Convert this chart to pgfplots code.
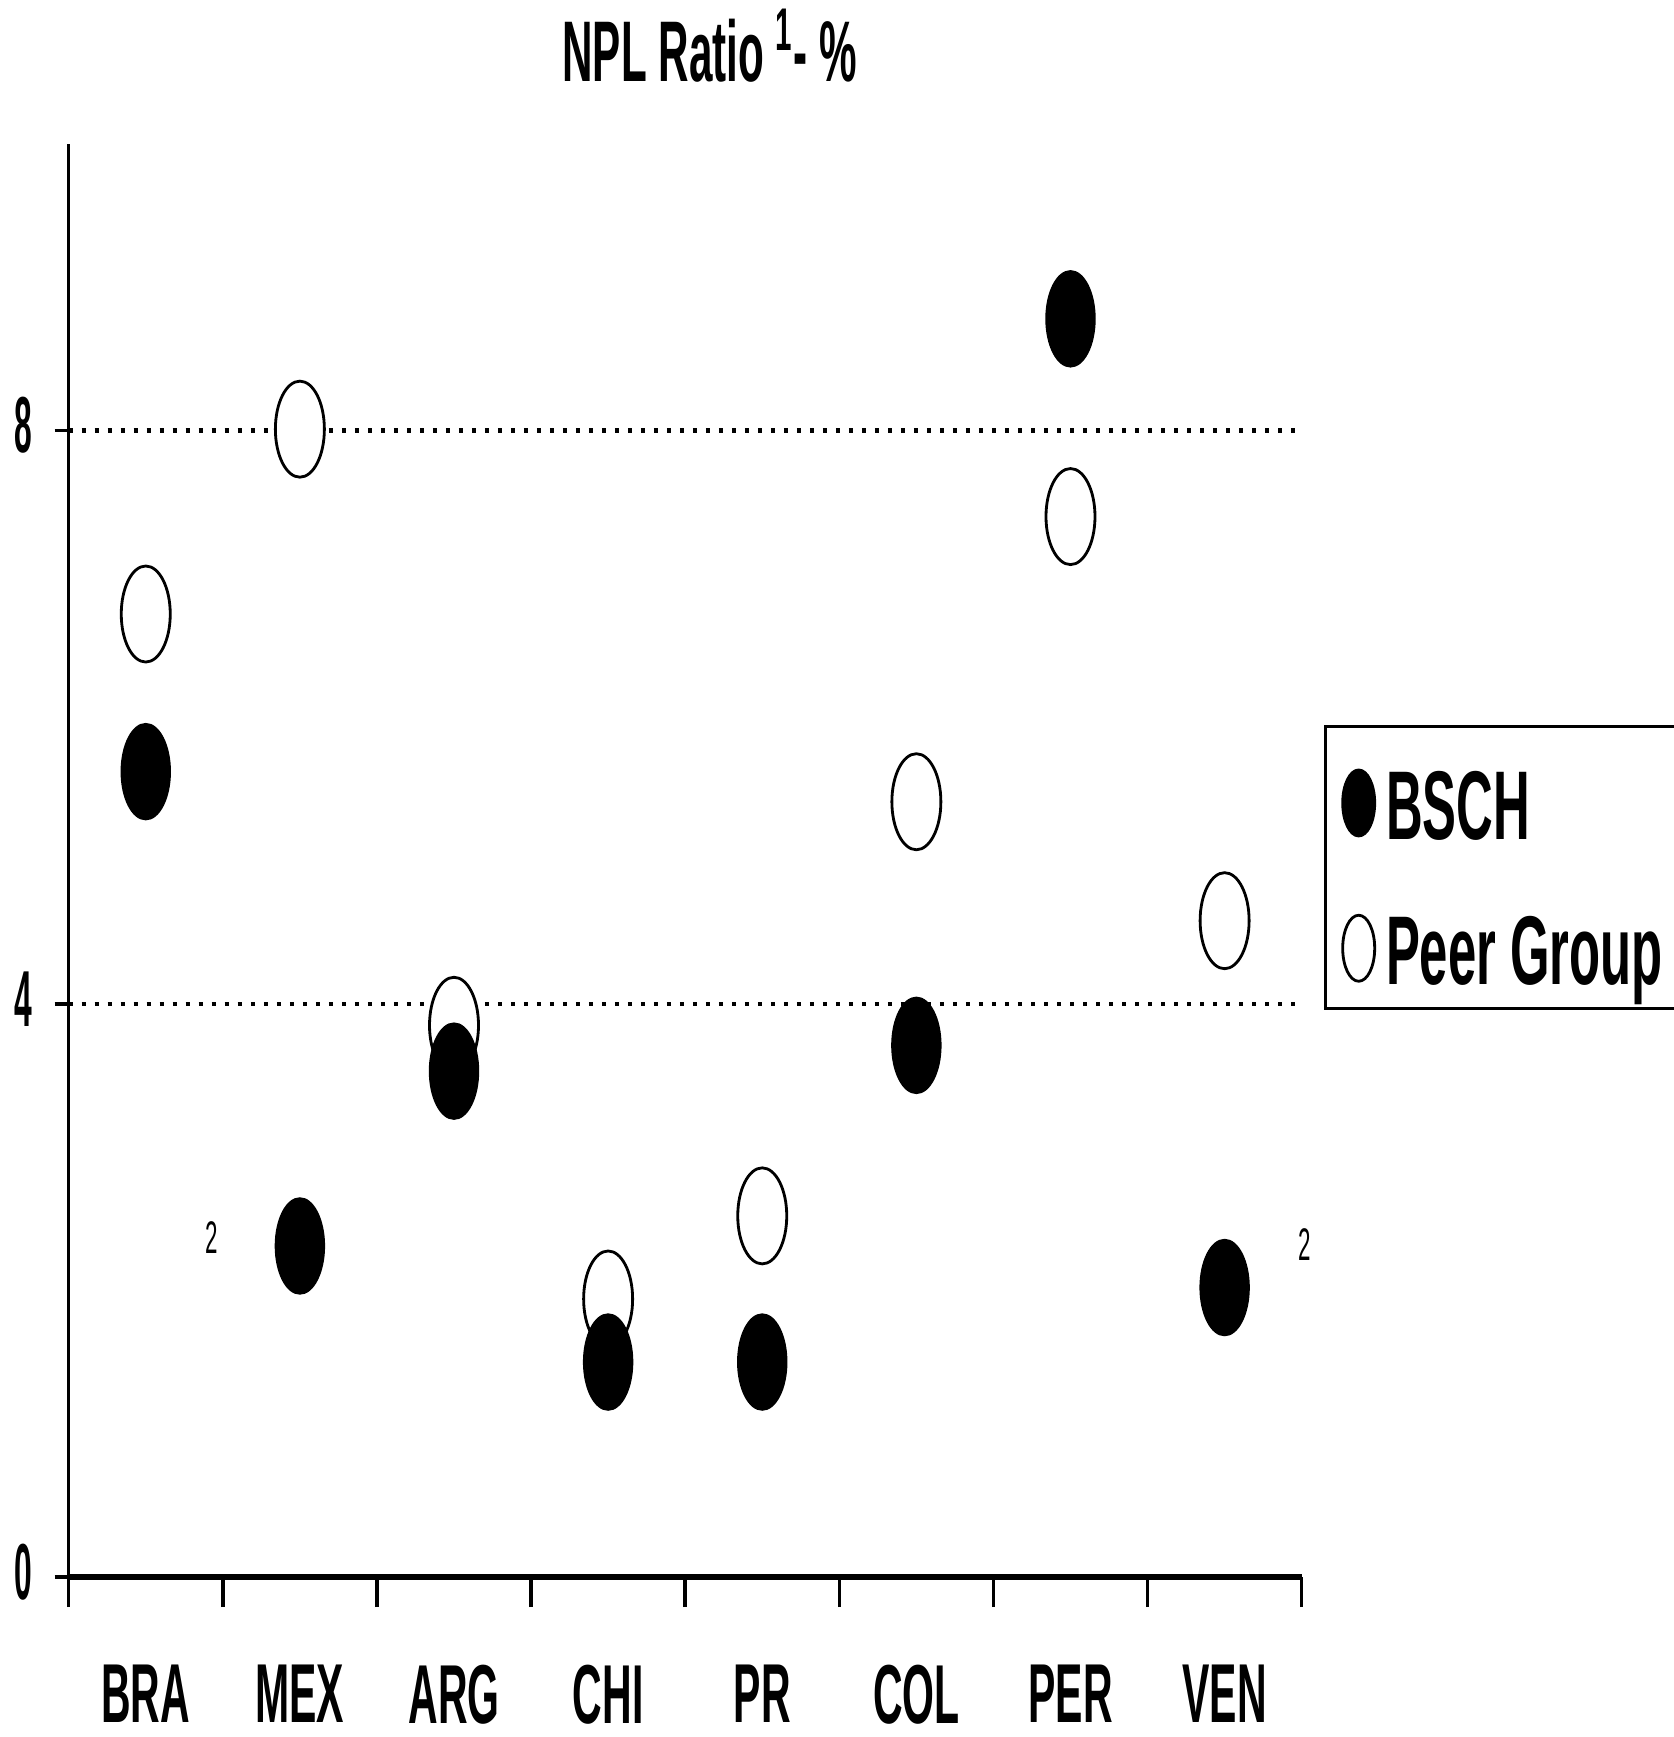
\documentclass[border=0pt]{standalone}
\usepackage{pgfplots}
\pgfplotsset{compat=1.18}
\usepackage{fontspec}
\setmainfont{Liberation Sans}
\newfontfamily\condA{Liberation Sans}[FakeStretch=0.49]
\newfontfamily\condB{Liberation Sans}[FakeStretch=0.4]
\newfontfamily\condL{Liberation Sans}[FakeStretch=0.52]
\newcommand{\lstrut}{\rule[-0.2cm]{0pt}{1.14cm}}
\begin{document}
\begin{tikzpicture}
\begin{axis}[
  scale only axis, width=12.33cm, height=14.33cm,
  xmin=-0.5, xmax=7.5, ymin=0, ymax=10,
  clip=false,
  axis x line*=bottom, axis y line*=left,
  axis line style={-},
  x axis line style={line width=1.6pt},
  y axis line style={line width=0.75pt},
  tick align=outside,
  tick style={line width=1pt, black},
  major tick length=0.3cm,
  xtick={-0.5,0.5,...,7.5}, xticklabels={},
  extra x ticks={0,1,2,3,4,5,6,7},
  extra x tick labels={BRA,MEX,ARG,CHI,PR,COL,PER,VEN},
  extra x tick style={major tick length=0pt,
     xticklabel style={font=\condA\bfseries\fontsize{23.8}{26}\selectfont, anchor=north, yshift=-0.76cm}},
  ytick=\empty,
  extra y ticks={0,4,8},
  extra y tick labels={0,4,8},
  extra y tick style={major tick length=0.14cm, grid=major,
     yticklabel style={font=\condB\bfseries\fontsize{22.6}{24}\selectfont, anchor=east, xshift=-0.1cm, yshift=0.05cm}},
  major grid style={line width=1.2pt, dash pattern=on 1.1pt off 2.6pt, black},
  reverse legend,
  legend cell align=left,
  legend style={at={(1.018,0.5946)}, anchor=north west, draw=black, line width=0.8pt,
     inner xsep=0.03cm, inner ysep=0.16cm,
     font=\condL\bfseries\fontsize{27.8}{30}\selectfont,
     nodes={inner ysep=0.03cm, inner xsep=0.1cm}, row sep=0.40cm},
]
\coordinate (O) at (rel axis cs:0,0);
\addplot[only marks, mark=*, mark size=0.245cm, draw=black, fill=white, line width=0.8pt,
   mark options={yscale=1.96, draw=black, fill=white},
   legend image code/.code={\path (-0.03cm,-0.08cm); \draw[black, line width=0.8pt, fill=white] (0.26cm,-0.08cm) ellipse [x radius=0.16cm, y radius=0.33cm];}]
  coordinates {(0,6.72) (1,8.01) (2,3.85) (3,1.94) (4,2.52) (5,5.41) (6,7.40) (7,4.58)};
\addlegendentry{\lstrut\makebox[2.85cm][l]{Peer Group}}
\addplot[only marks, mark=*, mark size=0.245cm, draw=black, fill=black,
   mark options={yscale=1.96, draw=black, fill=black},
   legend image code/.code={\path (-0.03cm,-0.08cm); \fill[black] (0.26cm,-0.08cm) ellipse [x radius=0.16cm, y radius=0.33cm];}]
  coordinates {(0,5.62) (1,2.31) (2,3.53) (3,1.50) (4,1.50) (5,3.71) (6,8.78) (7,2.02)};
\addlegendentry{\lstrut BSCH}
\node[anchor=base, font=\condA\bfseries\fontsize{24.5}{26}\selectfont] at (rel axis cs:0.520,1.0433) {NPL Ratio \textsuperscript{1}- \%};
\node[font=\condA\fontsize{13}{14}\selectfont] at (axis cs:0.43,2.37) {2};
\node[font=\condA\fontsize{13}{14}\selectfont] at (axis cs:7.52,2.32) {2};
\end{axis}
\pgfresetboundingbox
\path[use as bounding box] ([shift={(-0.687cm,-1.60cm)}]O) rectangle ([shift={(16.053cm,15.77cm)}]O);
\end{tikzpicture}
\end{document}
